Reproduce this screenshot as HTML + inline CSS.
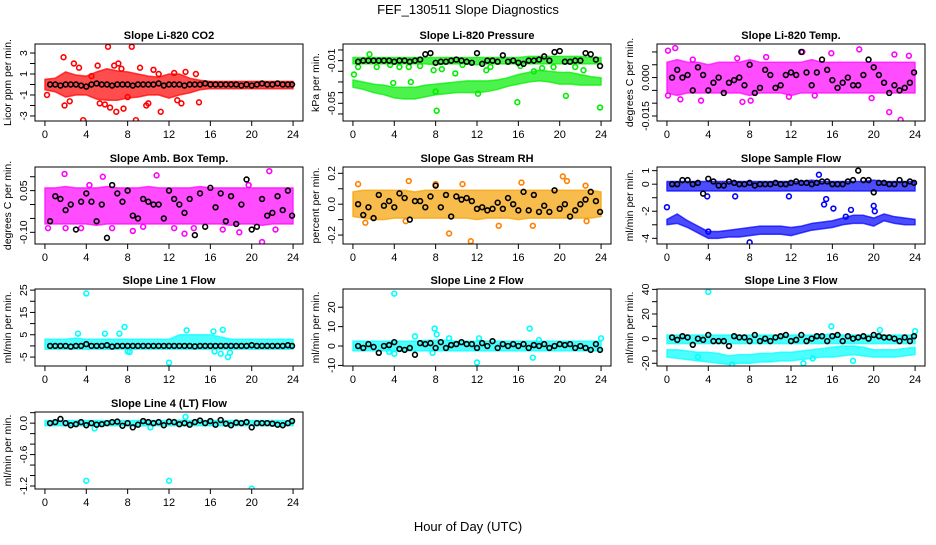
<!DOCTYPE html>
<html><head><meta charset="utf-8"><style>
body{margin:0;background:#fff}
svg text{font-family:"Liberation Sans",sans-serif}
</style></head><body>
<svg id="c" width="936" height="540" xmlns="http://www.w3.org/2000/svg">
<rect width="936" height="540" fill="#fff"/>
<text x="468" y="14" font-size="13" text-anchor="middle">FEF_130511  Slope Diagnostics</text>
<text x="468" y="531" font-size="13" text-anchor="middle">Hour of Day (UTC)</text>
</svg>
<script>
const bandX=[0,1,2,3,4,5,6,7,8,9,10,11,12,13,14,15,16,17,18,19,20,21,22,23,24];
const xTicks=[0,4,8,12,16,20,24];
const blackX=[0.5,1,1.5,2,2.5,3,3.5,4,4.5,5,5.5,6,6.5,7,7.5,8,8.5,9,9.5,10,10.5,11,11.5,12,12.5,13,13.5,14,14.5,15,15.5,16,16.5,17,17.5,18,18.5,19,19.5,20,20.5,21,21.5,22,22.5,23,23.5,23.9];

const co2Hi=[0.5,0.6,1.2,0.9,0.8,1.2,1.5,1.3,1.2,1.0,0.8,0.7,1.0,1.0,0.6,0.4,0.3,0.3,0.3,0.3,0.3,0.3,0.3,0.3,0.3];
const co2Lo=[-0.5,-0.7,-1.2,-1.0,-1.0,-1.4,-1.5,-1.5,-1.3,-1.2,-1.0,-1.0,-1.3,-1.0,-0.8,-0.5,-0.4,-0.4,-0.4,-0.4,-0.4,-0.4,-0.4,-0.4,-0.4];
const co2OutX=[0.2,1.8,1.9,2.8,3.7,4.5,5.1,5.3,6.1,6.7,6.9,7.4,7.6,8.4,8.8,9.2,9.8,10.5,11.2,12.5,13.2,13.6,14.6,14.9,5.8,7.1,8.0,10.0,11.0,12.8,2.4,3.3,6.3];
const co2OutY=[-1.0,2.6,-2.0,2.0,-3.4,0.8,1.8,-1.8,3.6,1.8,-2.6,1.5,-2.3,3.6,-3.4,1.6,-2.0,1.4,-2.6,1.1,-1.8,1.2,1.0,-1.7,-1.9,2.0,-1.2,-1.8,1.0,-1.5,-1.6,1.6,-2.2];
const co2Black=[0,0,-0.1,0,0,0,-0.1,-0.2,0,0.1,0,0,-0.1,0,0,0,-0.1,0,0,0,0,0.1,-0.1,0,0,0,-0.1,0,0,0,0.1,0,0,0,0,0,0,-0.1,0,-0.1,0,0.1,0,0,0.1,0,0,0];

const presHi=[-0.007,-0.007,-0.007,-0.007,-0.007,-0.007,-0.007,-0.007,-0.007,-0.007,-0.007,-0.007,-0.007,-0.007,-0.007,-0.007,-0.007,-0.006,-0.006,-0.006,-0.006,-0.006,-0.006,-0.007,-0.007];
const presLo=[-0.013,-0.013,-0.013,-0.013,-0.013,-0.013,-0.013,-0.013,-0.014,-0.013,-0.013,-0.013,-0.014,-0.013,-0.013,-0.013,-0.013,-0.013,-0.013,-0.013,-0.013,-0.013,-0.013,-0.013,-0.013];
const presLowHi=[-0.028,-0.030,-0.032,-0.033,-0.035,-0.035,-0.035,-0.033,-0.032,-0.031,-0.030,-0.029,-0.029,-0.029,-0.028,-0.026,-0.023,-0.021,-0.019,-0.020,-0.021,-0.021,-0.023,-0.025,-0.026];
const presLowLo=[-0.035,-0.037,-0.040,-0.042,-0.045,-0.046,-0.046,-0.044,-0.042,-0.041,-0.040,-0.040,-0.040,-0.039,-0.037,-0.034,-0.032,-0.030,-0.029,-0.030,-0.032,-0.032,-0.033,-0.033,-0.033];
const presOutX=[0.5,1.6,2.3,3.6,4.5,5.4,6.5,7.8,8.0,8.1,9.9,10.6,12.1,12.9,13.3,15.9,16.2,17.5,18.3,19.4,20.6,21.5,22.3,23.9,0.1,3.9,5.6,8.6];
const presOutY=[-0.016,-0.004,-0.016,-0.014,-0.016,-0.016,-0.015,-0.019,-0.039,-0.057,-0.022,-0.014,-0.041,-0.019,-0.016,-0.049,-0.015,-0.020,-0.017,-0.016,-0.043,-0.016,-0.019,-0.054,-0.023,-0.031,-0.030,-0.018];
const presBlack=[-0.011,-0.010,-0.010,-0.010,-0.010,-0.010,-0.010,-0.011,-0.010,-0.010,-0.011,-0.010,-0.009,-0.004,-0.003,-0.012,-0.011,-0.011,-0.010,-0.009,-0.010,-0.011,-0.012,-0.003,-0.013,-0.010,-0.010,-0.011,-0.005,-0.011,-0.010,-0.012,-0.013,-0.010,-0.010,-0.009,-0.006,-0.010,-0.002,-0.001,-0.011,-0.011,-0.010,-0.010,-0.003,-0.004,-0.009,-0.015];

const tempHi=[0.006,0.007,0.006,0.006,0.005,0.006,0.006,0.006,0.007,0.006,0.006,0.006,0.006,0.006,0.007,0.006,0.006,0.006,0.006,0.006,0.006,0.006,0.006,0.006,0.006];
const tempLo=[-0.006,-0.007,-0.006,-0.006,-0.006,-0.006,-0.006,-0.006,-0.007,-0.006,-0.006,-0.006,-0.007,-0.006,-0.006,-0.006,-0.006,-0.006,-0.006,-0.006,-0.006,-0.006,-0.006,-0.006,-0.006];
const tempOutX=[0.1,0.8,1.3,3.3,6.8,7.3,8.1,13.1,15.9,18.6,21.5,22.6,23.4,0.1,2.5,11.8,9.6,14.3,19.8,22.0];
const tempOutY=[0.0105,0.0115,-0.0085,-0.009,0.0075,-0.0095,-0.009,0.010,0.0095,0.011,-0.0135,-0.0165,0.0085,-0.007,0.007,-0.0075,0.008,-0.007,-0.008,0.009];
const tempBlack=[0.000,0.003,0.000,0.001,-0.005,0.004,0.001,-0.005,-0.002,0.000,-0.006,-0.002,-0.001,0.000,-0.003,0.005,-0.006,-0.004,0.003,0.001,-0.004,-0.003,0.001,0.002,0.001,0.010,0.002,-0.003,0.002,0.007,0.003,-0.001,-0.004,-0.002,0.000,-0.003,-0.003,0.001,0.007,0.004,0.001,-0.002,-0.006,-0.003,-0.005,-0.004,-0.002,0.002];

const ambHi=[0.06,0.06,0.065,0.06,0.06,0.06,0.065,0.06,0.06,0.06,0.065,0.06,0.06,0.06,0.06,0.065,0.06,0.06,0.06,0.06,0.06,0.06,0.06,0.06,0.06];
const ambLo=[-0.07,-0.07,-0.07,-0.07,-0.07,-0.075,-0.07,-0.07,-0.07,-0.07,-0.07,-0.07,-0.07,-0.07,-0.07,-0.07,-0.07,-0.07,-0.075,-0.07,-0.07,-0.075,-0.07,-0.07,-0.07];
const ambOutX=[0.3,1.9,3.5,5.6,6.5,8.5,10.8,13.5,14.4,17.2,18.8,19.7,21.0,21.7,22.3,4.3,12.5,9.5,2.0];
const ambOutY=[-0.085,0.11,-0.085,0.10,-0.085,-0.095,0.105,-0.105,-0.085,-0.09,-0.10,0.07,-0.135,0.12,-0.09,0.07,-0.085,-0.08,-0.085];
const ambBlack=[-0.06,0.03,0.02,-0.02,0.00,-0.09,0.01,0.04,0.01,-0.06,0.00,-0.12,0.07,0.04,0.01,0.05,-0.04,-0.05,0.02,0.01,0.00,0.00,-0.05,0.05,0.02,0.00,-0.03,0.02,-0.11,0.04,-0.08,0.06,-0.01,0.04,-0.06,0.03,-0.07,0.00,0.09,-0.09,-0.08,0.02,-0.04,-0.03,0.03,-0.02,0.05,-0.04];

const rhHi=[0.08,0.09,0.09,0.09,0.09,0.09,0.08,0.09,0.09,0.09,0.09,0.09,0.09,0.09,0.09,0.09,0.09,0.09,0.09,0.09,0.09,0.09,0.09,0.09,0.08];
const rhLo=[-0.08,-0.09,-0.10,-0.10,-0.09,-0.09,-0.09,-0.09,-0.09,-0.09,-0.09,-0.09,-0.10,-0.09,-0.09,-0.09,-0.10,-0.09,-0.09,-0.09,-0.09,-0.09,-0.09,-0.09,-0.08];
const rhOutX=[0.5,1.2,5.4,9.3,10.6,11.4,14.1,16.3,17.4,20.3,20.7,22.5,22.6,5.1,8.0];
const rhOutY=[0.13,-0.12,0.15,-0.19,0.13,-0.24,-0.14,0.14,-0.14,0.18,0.15,0.12,-0.11,-0.11,0.13];
const rhBlack=[0.0,-0.07,-0.02,-0.09,0.06,-0.01,0.02,-0.02,0.07,0.04,-0.10,0.02,0.02,-0.02,0.05,0.12,-0.02,0.06,-0.08,0.05,0.03,0.04,0.02,-0.03,-0.02,-0.04,-0.03,0.01,-0.03,0.04,0.00,-0.04,0.08,-0.04,0.06,-0.05,-0.01,-0.05,0.09,-0.03,0.0,-0.08,-0.04,0.0,0.03,0.08,0.02,-0.05];

const flowHi=[0.2,0.2,0.2,0.2,0.2,0.2,0.2,0.2,0.2,0.2,0.2,0.2,0.2,0.2,0.3,0.2,0.2,0.2,0.2,0.2,0.3,0.2,0.2,0.2,0.2];
const flowLo=[-0.5,-0.5,-0.5,-0.5,-0.5,-0.5,-0.5,-0.5,-0.5,-0.5,-0.5,-0.5,-0.5,-0.5,-0.5,-0.5,-0.5,-0.5,-0.5,-0.5,-0.5,-0.5,-0.5,-0.5,-0.5];
const flowLowHi=[-2.6,-2.2,-2.7,-3.1,-3.5,-3.5,-3.4,-3.3,-3.2,-3.1,-3.1,-3.1,-3.2,-3.1,-2.9,-2.8,-2.7,-2.5,-2.3,-2.3,-2.5,-2.2,-2.4,-2.5,-2.6];
const flowLowLo=[-3.0,-2.9,-3.2,-3.6,-4.0,-4.0,-3.9,-3.9,-3.8,-3.7,-3.7,-3.7,-3.8,-3.6,-3.4,-3.3,-3.2,-3.0,-2.9,-2.9,-3.1,-2.7,-2.9,-3.0,-3.0];
const flowOutX=[0,4,8,14.7,15.2,15.4,16.1,20,20.1,3.9,6.6,11.8,17.3,17.8];
const flowOutY=[-1.7,-3.5,-4.3,0.7,-1.5,-1.1,-1.8,-1.6,-2.0,-0.9,-0.9,-0.9,-2.4,-1.9];
const flowBlack=[0,0,0.3,0.3,0,0.1,-0.7,0.4,0.2,-0.1,-0.1,0.2,0.1,0,0,0.1,-0.1,0,0,0,0.1,0,0,0.1,0.2,0.1,0.1,0,0.1,0.2,0.2,0,0,0,0.2,0.3,1.0,0.3,0.3,-0.6,0.1,0.1,0,0,0.3,0,0.2,0.1];

const l1Hi=[3,3,3,3.5,3,3,3,3,3,3,3,3,3,5,5,5,5,4,3,3,3,3,3,3,3];
const l1Lo=[-1.5,-1.5,-1.5,-1.5,-1.5,-1.5,-1.5,-1.5,-1.5,-1.5,-1.5,-1.5,-1.5,-1.5,-1.5,-1.5,-1.5,-1.5,-1.5,-1.5,-1.5,-1.5,-1.5,-1.5,-1.5];
const l1OutX=[4,12,7.7,17.2,13.7,16.3,16.4,17.0,17.7,17.9,8.0,8.2,5.8,3.2,7.2];
const l1OutY=[23.5,-7.5,8.5,7.2,7,6.5,-2.5,-3.5,-5,-3,-2.5,-2.7,5.5,5.5,5.5];
const l1Black=[0,0,0,0,-0.3,0,0,0.8,0,0,0,0.3,-0.3,0,0,0,0,0,0,0,0,0,0,0,0,0,0,0,-0.2,0,0,0,0,0,0,0,0,0,0,0.3,0,0,0,0,0,0,0.3,0];

const l2Hi=[2.5,2.5,2.5,2.5,2.5,2.5,2.5,3,3,3,2.5,2.5,2.5,2.5,2.5,2.5,2.5,2.5,2.5,2.5,2.5,2.5,2.5,2.5,2.5];
const l2Lo=[-2.5,-2.5,-2.5,-2.5,-2.5,-2.5,-2.5,-2.5,-2.5,-2.5,-2.5,-2.5,-2.5,-2.5,-2.5,-2.5,-2.5,-2.5,-2.5,-2.5,-2.5,-2.5,-2.5,-2.5,-2.5];
const l2OutX=[4,12,7.9,8.1,17.1,17.4,6,4,12.2,18,24,9.3,3.5,7.7];
const l2OutY=[27,-8.5,9,6,9,-6,5,-4,4,3,4,4,-3,-3.5];
const l2Black=[0,-1,1,-0.5,-3.5,0,0.5,2,-1.5,-2,-1,-4.5,1.5,1,1.5,-1,2,-1,0.5,1,2,1,1,-1,1.5,0,2.5,-1,1,0,1,0,1,-1,0.5,0,1,-1,0,1,0.5,1,-1,0,-1,-2,1,-2];

const l3Hi=[3,3,3,3,3,3,3,3,3,3,3,3,3,3,3,3,4,3,3,3,3,3,3,3,3];
const l3Lo=[-4,-4,-4,-4,-4,-4,-4,-4,-4,-4,-4,-4,-4,-4,-4,-4,-4,-4,-4,-4,-4,-4,-4,-4,-4];
const l3LowHi=[-9,-9,-10,-11,-11,-12,-14,-13,-13,-12,-12,-11,-11,-10,-9,-8,-7,-6,-6,-7,-9,-9,-9,-8,-7];
const l3LowLo=[-15,-16,-17,-18,-19,-20,-21,-20,-20,-19,-19,-18,-18,-17,-16,-15,-15,-14,-13,-14,-15,-15,-15,-14,-13];
const l3OutX=[4,15.9,20.6,24,6.3,13.2,14.1,18,3];
const l3OutY=[38,10,7,6,-21,-20,-16,-18,-15];
const l3Black=[1,-1,2,1,-5,0,-1,3,-2,-2,-2,-6,2,1,1,-2,3,-2,0,-2,1,2,3,-2,-1,3,-2,0,2,2,-2,2,3,-2,2,0,1,2,0,3,2,1,1,0,-2,1,-2,2];

const l4Hi=[0.05,0.05,0.05,0.05,0.05,0.05,0.05,0.05,0.05,0.05,0.05,0.05,0.05,0.06,0.05,0.05,0.05,0.05,0.05,0.05,0.05,0.05,0.05,0.05,0.05];
const l4Lo=[-0.05,-0.05,-0.05,-0.05,-0.05,-0.05,-0.05,-0.05,-0.05,-0.06,-0.05,-0.05,-0.05,-0.05,-0.05,-0.05,-0.05,-0.05,-0.05,-0.05,-0.05,-0.05,-0.05,-0.05,-0.05];
const l4OutX=[4,12,20,13.6,4.8,10.2];
const l4OutY=[-1.1,-1.1,-1.25,0.12,-0.1,-0.08];
const l4Black=[0,0.02,0.08,0.0,-0.04,-0.02,0.02,-0.04,0.0,-0.03,-0.02,0.0,0.02,0.03,-0.05,0.0,-0.08,-0.03,0.04,0.02,0.0,0.02,-0.04,0.03,0.02,-0.02,0.0,-0.03,0.02,0.05,0.0,0.04,-0.03,0.06,-0.01,-0.04,0.01,0.0,0.02,-0.08,0.0,0.0,0.0,-0.01,-0.03,-0.04,0.0,0.04];

const co2Ticks=[-3,-2,-1,0,1,2,3], co2Labels=["-3","","-1","","1","","3"];
const presTicks=[0,-0.01,-0.02,-0.03,-0.04,-0.05,-0.06], presLabels=["","-0.01","","","","-0.05",""];
const tempTicks=[0.010,0.005,0,-0.005,-0.010,-0.015], tempLabels=["","","0.000","","","-0.015"];
const ambTicks=[0.10,0.05,0,-0.05,-0.10], ambLabels=["","0.05","","","-0.10"];
const rhTicks=[0.2,0.1,0,-0.1,-0.2], rhLabels=["0.2","","0.0","","-0.2"];
const flowTicks=[1,0,-1,-2,-3,-4], flowLabels=["1","0","","-2","","-4"];
const l1Ticks=[25,20,15,10,5,0,-5], l1Labels=["25","","15","","5","","-5"];
const l2Ticks=[20,10,0,-10], l2Labels=["20","10","0","-10"];
const l3Ticks=[40,30,20,10,0,-10,-20], l3Labels=["40","","20","","0","","-20"];
const l4Ticks=[0.2,0,-0.2,-0.4,-0.6,-0.8,-1.0,-1.2], l4Labels=["","0.0","","","-0.6","","","-1.2"];

const NS="http://www.w3.org/2000/svg";
const svg=document.getElementById('c');
function mk(tag,attrs,parent){const e=document.createElementNS(NS,tag);for(const k in attrs)e.setAttribute(k,attrs[k]);(parent||svg).appendChild(e);return e;}

const panels=[
 {id:'co2',title:'Slope Li-820 CO2',ylab:'Licor ppm per min.',L:35,T:44,yl:[-3.48,3.86],col:'#ff0000',bands:[[co2Hi,co2Lo]],ox:co2OutX,oy:co2OutY,bk:co2Black,tk:co2Ticks,tl:co2Labels},
 {id:'pressure',title:'Slope Li-820 Pressure',ylab:'kPa per min.',L:343,T:44,yl:[-0.0666,0.0056],col:'#00ee00',bands:[[presHi,presLo],[presLowHi,presLowLo]],ox:presOutX,oy:presOutY,bk:presBlack,tk:presTicks,tl:presLabels},
 {id:'temp',title:'Slope Li-820 Temp.',ylab:'degrees C per min.',L:657,T:44,yl:[-0.01695,0.0131],col:'#ff00ff',bands:[[tempHi,tempLo]],ox:tempOutX,oy:tempOutY,bk:tempBlack,tk:tempTicks,tl:tempLabels},
 {id:'amb-box-temp',title:'Slope Amb. Box Temp.',ylab:'degrees C per min.',L:35,T:167,yl:[-0.142,0.135],col:'#ff00ff',bands:[[ambHi,ambLo]],ox:ambOutX,oy:ambOutY,bk:ambBlack,tk:ambTicks,tl:ambLabels},
 {id:'gas-rh',title:'Slope Gas Stream RH',ylab:'percent per min.',L:343,T:167,yl:[-0.258,0.241],col:'#f5a000',oc:'#ff8000',bands:[[rhHi,rhLo]],ox:rhOutX,oy:rhOutY,bk:rhBlack,tk:rhTicks,tl:rhLabels},
 {id:'sample-flow',title:'Slope Sample Flow',ylab:'ml/min per min.',L:657,T:167,yl:[-4.42,1.27],col:'#0000ff',bands:[[flowHi,flowLo],[flowLowHi,flowLowLo]],ox:flowOutX,oy:flowOutY,bk:flowBlack,tk:flowTicks,tl:flowLabels},
 {id:'line1-flow',title:'Slope Line 1 Flow',ylab:'ml/min per min.',L:35,T:289,yl:[-9.0,25.5],col:'#00ffff',bands:[[l1Hi,l1Lo]],ox:l1OutX,oy:l1OutY,bk:l1Black,tk:l1Ticks,tl:l1Labels},
 {id:'line2-flow',title:'Slope Line 2 Flow',ylab:'ml/min per min.',L:343,T:289,yl:[-10.3,29.4],col:'#00ffff',bands:[[l2Hi,l2Lo]],ox:l2OutX,oy:l2OutY,bk:l2Black,tk:l2Ticks,tl:l2Labels},
 {id:'line3-flow',title:'Slope Line 3 Flow',ylab:'ml/min per min.',L:657,T:289,yl:[-22.2,40.3],col:'#00ffff',bands:[[l3Hi,l3Lo],[l3LowHi,l3LowLo]],ox:l3OutX,oy:l3OutY,bk:l3Black,tk:l3Ticks,tl:l3Labels},
 {id:'line4-flow',title:'Slope Line 4 (LT) Flow',ylab:'ml/min per min.',L:35,T:412,yl:[-1.257,0.213],col:'#00ffff',bands:[[l4Hi,l4Lo]],ox:l4OutX,oy:l4OutY,bk:l4Black,tk:l4Ticks,tl:l4Labels}
];
const W=268,H=77;
panels.forEach(p=>{
  const g=mk('g',{});
  
  
  const xs=v=>p.L+(v+0.96)/25.92*W;
  const ys=v=>p.T+H-(v-p.yl[0])/(p.yl[1]-p.yl[0])*H;
  const clip=mk('clipPath',{id:'clip-'+p.id},g);
  mk('rect',{x:p.L,y:p.T,width:W,height:H},clip);
  const d=mk('g',{'clip-path':'url(#clip-'+p.id+')'},g);
  p.bands.forEach((b,bi)=>{
    let pts=bandX.map((x,i)=>xs(x)+','+ys(b[0][i]));
    pts=pts.concat(bandX.map((x,i)=>xs(x)+','+ys(b[1][i])).reverse());
    const poly=mk('polygon',{points:pts.join(' '),fill:p.col,'fill-opacity':0.7,stroke:p.col,'stroke-opacity':0.7,'stroke-width':1.5,'stroke-linejoin':'round'},d);
    
    
  });
  p.ox.forEach((x,i)=>{
    const c=mk('circle',{cx:xs(x),cy:ys(p.oy[i]),r:2.4,fill:'none',stroke:p.oc||p.col,'stroke-width':1.6},d);
    
    
  });
  blackX.forEach((x,i)=>{
    const c=mk('circle',{cx:xs(x),cy:ys(p.bk[i]),r:2.4,fill:'none',stroke:'#000','stroke-width':1.6},d);
    
    
  });
  const box=mk('rect',{x:p.L,y:p.T,width:W,height:H,fill:'none',stroke:'#000','stroke-width':1},g);
  
  
  const t=mk('text',{x:p.L+W/2,y:p.T-5,'font-size':11,'font-weight':'bold','text-anchor':'middle'},g);
  t.textContent=p.title;
  
  
  const yb=p.T+H;
  xTicks.forEach(v=>{
    mk('line',{x1:xs(v),x2:xs(v),y1:yb,y2:yb+5,stroke:'#000'},g);
    const tx=mk('text',{x:xs(v),y:yb+17,'font-size':11,'text-anchor':'middle'},g);
    tx.textContent=v;
    
    
  });
  p.tk.forEach((v,i)=>{
    const y=ys(v);
    mk('line',{x1:p.L-5,x2:p.L,y1:y,y2:y,stroke:'#000'},g);
    if(p.tl[i]){
      const tx=mk('text',{x:p.L-8,y:y,'font-size':10.5,'text-anchor':'middle',transform:'rotate(-90 '+(p.L-8)+' '+y+')'},g);
      tx.textContent=p.tl[i];
      
      
    }
  });
  const yx=p.L-24, yy=p.T+H/2;
  const yl=mk('text',{x:yx,y:yy,'font-size':10.5,'text-anchor':'middle',transform:'rotate(-90 '+yx+' '+yy+')'},g);
  yl.textContent=p.ylab;
  
  
});
</script>
</body></html>
